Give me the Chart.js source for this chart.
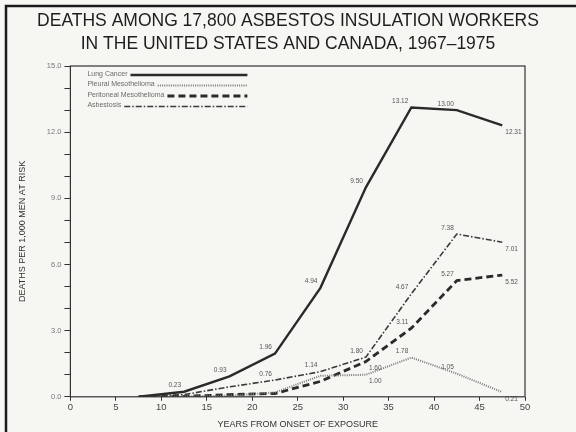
<!DOCTYPE html>
<html>
<head>
<meta charset="utf-8">
<script src="https://cdn.jsdelivr.net/npm/chart.js@4.4.1/dist/chart.umd.min.js"></script>
<style>
  html, body { margin: 0; padding: 0; background: #f6f6f3; }
  #wrap { width: 576px; height: 432px; }
</style>
</head>
<body>
<div id="wrap"><canvas id="asbestosChart" width="576" height="432"></canvas></div>
<script>
// ── data (years from onset, deaths per 1,000) ──
const years = [7.5, 12.5, 17.5, 22.5, 27.5, 32.5, 37.5, 42.5, 47.5];
const lungCancer = [0, 0.23, 0.93, 1.96, 4.94, 9.50, 13.12, 13.00, 12.31];
const pleuralMeso = [0, 0.02, 0.05, 0.20, 0.95, 1.00, 1.78, 1.05, 0.21];
const peritonealMeso = [0, 0.02, 0.10, 0.15, 0.70, 1.60, 3.11, 5.27, 5.52];
const asbestosis = [0, 0.10, 0.45, 0.76, 1.14, 1.80, 4.67, 7.38, 7.01];

// which points carry a printed value
const lungLabelled = [1, 2, 3, 4, 5, 6, 7, 8];
const pleuralLabelled = [5, 6, 7, 8];
const peritonealLabelled = [5, 6, 7, 8];
const asbestosisLabelled = [3, 4, 5, 6, 7, 8];

const titleLines = ['DEATHS AMONG 17,800 ASBESTOS INSULATION WORKERS',
                    'IN THE UNITED STATES AND CANADA, 1967\u20131975'];

const INK = '#2a2a2a';
const GREY = '#6b6b6b';
const FONT = "'Liberation Sans', 'DejaVu Sans', sans-serif";

const toXY = arr => arr.map((v, i) => ({ x: years[i], y: v }));

// ── frame, title, plot box ──
const framePlugin = {
  id: 'frame',
  beforeDraw(chart) {
    const c = chart.ctx;
    c.save();
    c.fillStyle = '#f6f6f3';
    c.fillRect(0, 0, chart.width, chart.height);
    c.strokeStyle = '#1a1a1a';
    c.lineWidth = 2.5;
    c.beginPath();
    c.moveTo(6, chart.height);
    c.lineTo(6, 6);
    c.lineTo(chart.width, 6);
    c.stroke();
    c.font = '17.5px ' + FONT;
    c.fillStyle = '#1e1e1e';
    c.textAlign = 'center';
    c.textBaseline = 'middle';
    titleLines.forEach((t, i) => c.fillText(t, 288, 21 + i * 23));
    c.restore();
  },
  afterDraw(chart) {
    const a = chart.chartArea, c = chart.ctx;
    c.save();
    c.strokeStyle = '#333';
    c.lineWidth = 1.2;
    c.strokeRect(a.left, a.top, a.right - a.left, a.bottom - a.top);
    c.restore();
  }
};

// ── value labels next to points ──
const valuePlugin = {
  id: 'values',
  afterDatasetsDraw(chart) {
    const c = chart.ctx;
    c.save();
    c.font = '6.5px ' + FONT;
    c.fillStyle = '#555';
    c.textBaseline = 'bottom';
    chart.data.datasets.forEach((ds, di) => {
      const meta = chart.getDatasetMeta(di);
      (ds.labelled || []).forEach(i => {
        const p = meta.data[i];
        const txt = ds.data[i].y.toFixed(2);
        const last = i === ds.data.length - 1;
        const below = last || (ds.labelBelow || []).includes(i);
        c.textAlign = below ? 'left' : 'right';
        c.fillText(txt, below ? p.x + 3 : p.x - 3, below ? p.y + 10 : p.y - 3);
      });
    });
    c.restore();
  }
};

// ── legend in upper-left of plot: text then line sample ──
const legendPlugin = {
  id: 'boxLegend',
  afterDraw(chart) {
    const a = chart.chartArea, c = chart.ctx;
    const x0 = a.left + 17, xEnd = a.left + 177;
    c.save();
    c.font = '7px ' + FONT;
    c.fillStyle = GREY;
    c.textBaseline = 'middle';
    chart.data.datasets.forEach((ds, i) => {
      const y = a.top + 8 + i * 10.5;
      c.fillText(ds.label, x0, y);
      const w = c.measureText(ds.label).width;
      c.strokeStyle = ds.borderColor;
      c.lineWidth = ds.borderWidth;
      c.setLineDash(ds.borderDash || []);
      c.beginPath();
      c.moveTo(x0 + w + 3, y + 1);
      c.lineTo(xEnd, y + 1);
      c.stroke();
    });
    c.restore();
  }
};

new Chart(document.getElementById('asbestosChart'), {
  type: 'line',
  data: {
    datasets: [
      { label: 'Lung Cancer', data: toXY(lungCancer), labelled: lungLabelled,
        borderColor: INK, borderWidth: 2.4, borderDash: [] },
      { label: 'Pleural Mesothelioma', data: toXY(pleuralMeso), labelled: pleuralLabelled, labelBelow: [5],
        borderColor: '#7a7a7a', borderWidth: 2, borderDash: [1, 1.2] },
      { label: 'Peritoneal Mesothelioma', data: toXY(peritonealMeso), labelled: peritonealLabelled, labelBelow: [5],
        borderColor: INK, borderWidth: 2.8, borderDash: [7, 4] },
      { label: 'Asbestosis', data: toXY(asbestosis), labelled: asbestosisLabelled,
        borderColor: '#3a3a3a', borderWidth: 1.6, borderDash: [6, 2, 1.5, 2] },
    ]
  },
  options: {
    responsive: false,
    animation: false,
    elements: { point: { radius: 0 }, line: { tension: 0, fill: false } },
    layout: { padding: { left: 17, right: 51, top: 66, bottom: 2 } },
    plugins: {
      legend: { display: false },
      tooltip: { enabled: false },
      title: { display: false }
    },
    scales: {
      x: {
        type: 'linear',
        min: 0, max: 50,
        border: { display: false },
        grid: { drawOnChartArea: false, tickLength: 4, tickColor: '#333' },
        ticks: { stepSize: 5, color: '#444', padding: 1, font: { family: FONT, size: 9.5 } },
        title: { display: true, text: 'YEARS FROM ONSET OF EXPOSURE', color: '#333',
                 font: { family: FONT, size: 9 }, padding: { top: 5, bottom: 0 } }
      },
      y: {
        min: 0, max: 15,
        border: { display: false },
        grid: { drawOnChartArea: false, tickLength: 6, tickColor: '#333' },
        ticks: {
          stepSize: 1, color: '#777', padding: 3,
          font: { family: FONT, size: 7.5 },
          callback: v => (v % 3 === 0 ? v.toFixed(1) : '')
        },
        title: { display: true, text: 'DEATHS PER 1,000 MEN AT RISK', color: '#333',
                 font: { family: FONT, size: 9 }, padding: { top: 0, bottom: 16 } }
      }
    }
  },
  plugins: [framePlugin, valuePlugin, legendPlugin]
});
</script>
</body>
</html>
